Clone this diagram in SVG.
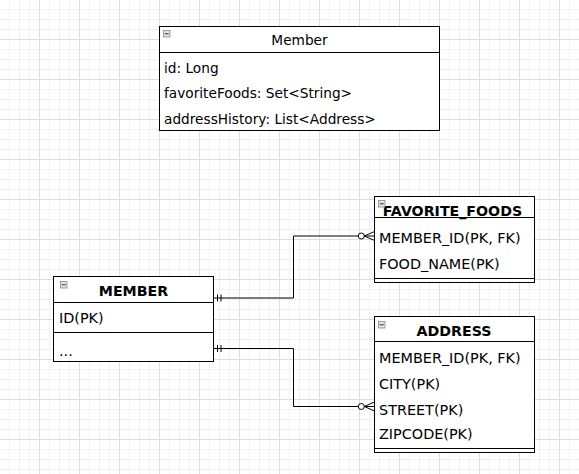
<svg xmlns="http://www.w3.org/2000/svg" width="579" height="474" viewBox="0 0 579 474">
<style>
.box{fill:#fff;stroke:#000;stroke-width:1}
.ln{stroke:#000;stroke-width:1;fill:none}
.cls{font-family:"DejaVu Sans",Verdana,sans-serif;font-size:13.7px;fill:#000}
.row{font-family:"DejaVu Sans",Verdana,sans-serif;font-size:14.4px;fill:#000}
.hdr{font-family:"DejaVu Sans",Verdana,sans-serif;font-size:14.2px;font-weight:bold;fill:#000;text-anchor:middle}
.edge{stroke:#000;stroke-width:1;fill:none}
.ico{fill:#e2e2e2;stroke:#8a8a8a;stroke-width:0.8}
.icm{stroke:#333;stroke-width:1}
</style>
<defs>
<pattern id="grid" x="0" y="0" width="40" height="40" patternUnits="userSpaceOnUse">
<path d="M9.5 0V40M19.5 0V40M29.5 0V40M0 9.5H40M0 19.5H40M0 29.5H40" stroke="#f2f2f2" stroke-width="1" fill="none"/>
<path d="M39.5 0V40M0 39.5H40" stroke="#dedede" stroke-width="1" fill="none"/>
</pattern>
<g id="icon">
<rect class="ico" x="0.5" y="0.5" width="6.5" height="6.5"/>
<path class="icm" d="M1.8 3.75H5.7"/>
</g>
</defs>
<rect width="579" height="474" fill="#fff"/>
<rect width="579" height="474" fill="url(#grid)"/>

<g id="member-class">
<rect class="box" x="159.5" y="26.5" width="280" height="104"/>
<path class="ln" d="M159.5 52.5H439.5"/>
<use href="#icon" x="163" y="30"/>
<text class="cls" x="299.5" y="45" text-anchor="middle">Member</text>
<text class="cls" x="164" y="72.5">id: Long</text>
<text class="cls" x="164" y="98">favoriteFoods: Set&lt;String&gt;</text>
<text class="cls" x="164" y="123.5">addressHistory: List&lt;Address&gt;</text>
</g>

<g id="connectors">
<path class="edge" d="M213.5 298H293.5V236H374.5"/>
<path d="M222 298H293" stroke="#7a7a7a" stroke-width="2" fill="none"/>
<path class="edge" d="M217.5 294.5V301.5M221 294.5V301.5"/>
<circle cx="361.3" cy="236" r="3" fill="#fff" stroke="#000" stroke-width="1"/>
<path class="edge" d="M374.5 231.5L364.3 236L374.5 240.5"/>

<path class="edge" d="M213.5 348.5H293.5V406.5H374.5"/>
<path class="edge" d="M217.5 345V352M221 345V352"/>
<circle cx="361.3" cy="406.5" r="3" fill="#fff" stroke="#000" stroke-width="1"/>
<path class="edge" d="M374.5 402L364.3 406.5L374.5 411"/>
</g>

<g id="MEMBER">
<rect class="box" x="53.5" y="276.5" width="160" height="85"/>
<path class="ln" d="M53.5 302.5H213.5M53.5 332.5H213.5"/>
<use href="#icon" x="60" y="281"/>
<text class="hdr" x="133.5" y="296">MEMBER</text>
<text class="row" x="59" y="323">ID(PK)</text>
<text class="row" x="59" y="355.5">...</text>
</g>

<g id="FAVORITE_FOODS">
<rect class="box" x="374.5" y="196.5" width="160" height="86"/>
<path class="ln" d="M374.5 217.5H534.5M374.5 278.5H534.5"/>
<text class="hdr" x="452.5" y="215.5">FAVORITE_FOODS</text>
<use href="#icon" x="378" y="200"/>
<text class="row" x="379" y="243">MEMBER_ID(PK, FK)</text>
<text class="row" x="379" y="269">FOOD_NAME(PK)</text>
</g>

<g id="ADDRESS">
<rect class="box" x="374.5" y="316.5" width="160" height="136"/>
<path class="ln" d="M374.5 341.5H534.5M374.5 448.5H534.5"/>
<use href="#icon" x="378" y="321"/>
<text class="hdr" x="454" y="335.5">ADDRESS</text>
<text class="row" x="379" y="362.5">MEMBER_ID(PK, FK)</text>
<text class="row" x="379" y="388.5">CITY(PK)</text>
<text class="row" x="379" y="414.5">STREET(PK)</text>
<text class="row" x="379" y="438.5">ZIPCODE(PK)</text>
</g>
</svg>
